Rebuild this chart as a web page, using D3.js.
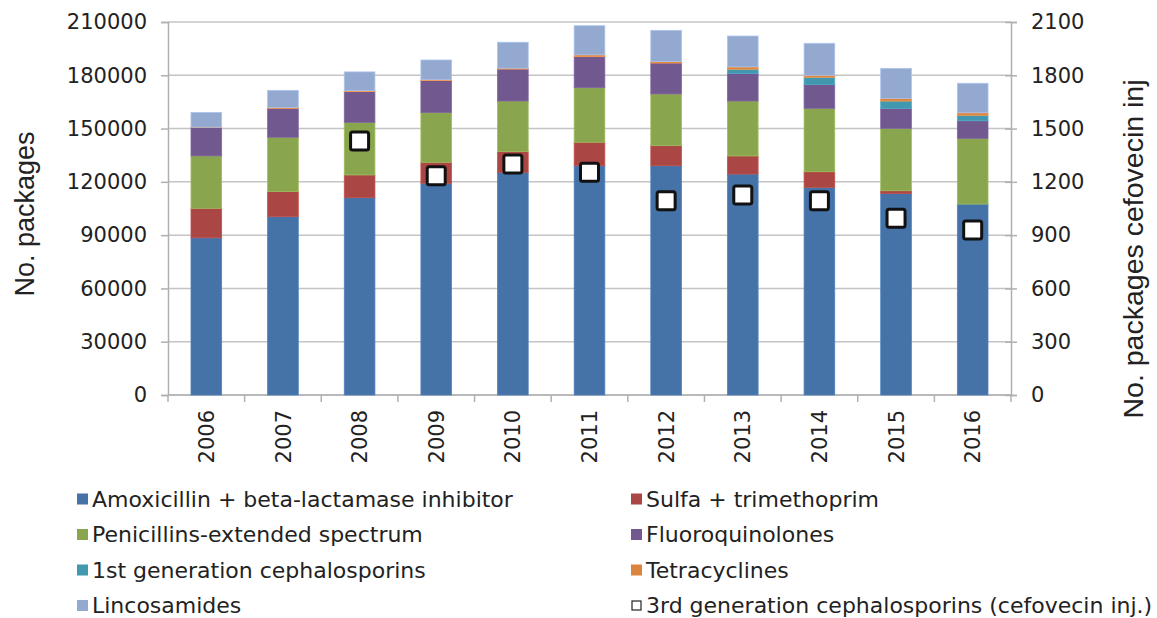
<!DOCTYPE html>
<html lang="en">
<head>
  <meta charset="utf-8">
  <title>Antibiotic packages</title>
  <script src="https://d3js.org/d3.v7.min.js"></script>
  <style>
    body { margin: 0; background: #fff; }
    .tick-label { font-family: "DejaVu Sans", Verdana, sans-serif; font-size: 21px; fill: #222; }
    .axis-title { font-family: "Liberation Sans", Arial, sans-serif; font-size: 27px; fill: #222; }
    .legend text { font-family: "DejaVu Sans", Verdana, sans-serif; font-size: 22px; fill: #222; }
  </style>
</head>
<body>
<script>
  // chart data
  var years = [2006, 2007, 2008, 2009, 2010, 2011, 2012, 2013, 2014, 2015, 2016];
  var amoxicillin = [88500, 100400, 111100, 119200, 125200, 129100, 129100, 124400, 116900, 113500, 107500];
  var sulfa = [16600, 14100, 12800, 11800, 11800, 13200, 11300, 10200, 8800, 1500, 0];
  var penicillins = [29500, 30600, 29600, 28000, 28500, 30700, 29100, 30900, 35700, 35100, 37000];
  var fluoroquinolones = [16000, 16300, 17300, 18000, 18000, 17500, 17400, 15600, 13500, 11300, 9900];
  var cephalosporins1 = [0, 0, 0, 0, 0, 0, 0, 2300, 4000, 4100, 3100];
  var tetracyclines = [200, 500, 500, 500, 500, 1000, 800, 1300, 1100, 1500, 1400];
  var lincosamides = [8300, 9600, 10600, 11100, 14600, 16400, 17600, 17400, 18000, 16900, 16600];
  var cefovecin = [null, null, 1430, 1235, 1300, 1254, 1094, 1126, 1094, 995, 929];

  var leftTicks = [0, 30000, 60000, 90000, 120000, 150000, 180000, 210000];
  var rightTicks = [0, 300, 600, 900, 1200, 1500, 1800, 2100];

  var seriesNames = ["Amoxicillin + beta-lactamase inhibitor", "Sulfa + trimethoprim",
    "Penicillins-extended spectrum", "Fluoroquinolones", "1st generation cephalosporins",
    "Tetracyclines", "Lincosamides"];
  var seriesValues = [amoxicillin, sulfa, penicillins, fluoroquinolones, cephalosporins1, tetracyclines, lincosamides];
  var seriesColors = ["#4572A7", "#AA4643", "#89A54E", "#71588F", "#4198AF", "#DB843D", "#93A9CF"];
  var markerName = "3rd generation cephalosporins (cefovecin inj.)";

  var width = 1157;
  var height = 618;
  // plot area edges ("top" is taken by window.top)
  var pLeft = 168, pRight = 1011, pTop = 22, pBottom = 395;

  var svg = d3.select("body").append("svg")
    .attr("width", width)
    .attr("height", height);

  var x = d3.scaleBand().domain(years).range([pLeft, pRight]).paddingInner(0.6).paddingOuter(0.3);
  var y = d3.scaleLinear().domain([0, 210000]).range([pBottom, pTop]);
  var y2 = d3.scaleLinear().domain([0, 2100]).range([pBottom, pTop]);

  // gridlines
  svg.append("g").selectAll("line")
    .data(leftTicks)
    .enter().append("line")
    .attr("x1", pLeft).attr("x2", pRight)
    .attr("y1", function(d) { return y(d); })
    .attr("y2", function(d) { return y(d); })
    .attr("stroke", "#c4c4c4")
    .attr("stroke-width", 1.5);

  // left axis
  var leftAxis = svg.append("g")
    .attr("transform", "translate(" + pLeft + ",0)")
    .call(d3.axisLeft(y).tickValues(leftTicks).tickSize(7).tickPadding(14).tickFormat(d3.format("d")));
  leftAxis.select(".domain").attr("stroke", "#b0b0b0").attr("stroke-width", 1.5);
  leftAxis.selectAll(".tick line").attr("stroke", "#b0b0b0").attr("stroke-width", 1.5);
  leftAxis.selectAll("text").attr("class", "tick-label");
  leftAxis.attr("font-size", null).attr("font-family", null);

  // right axis
  var rightAxis = svg.append("g")
    .attr("transform", "translate(" + pRight + ",0)")
    .call(d3.axisRight(y2).tickValues(rightTicks).tickSize(6).tickPadding(14).tickFormat(d3.format("d")));
  rightAxis.select(".domain").attr("stroke", "#b0b0b0").attr("stroke-width", 1.5);
  rightAxis.selectAll(".tick line").attr("x1", -6).attr("stroke", "#b0b0b0").attr("stroke-width", 1.5);
  rightAxis.selectAll("text").attr("class", "tick-label");
  rightAxis.attr("font-size", null).attr("font-family", null);

  // bottom axis: ticks between categories, labels rotated
  var step = x.step();
  var bottomAxis = svg.append("g");
  bottomAxis.append("line")
    .attr("x1", pLeft).attr("x2", pRight)
    .attr("y1", pBottom).attr("y2", pBottom)
    .attr("stroke", "#b0b0b0").attr("stroke-width", 1.5);
  bottomAxis.selectAll(".sep")
    .data(d3.range(years.length + 1))
    .enter().append("line")
    .attr("x1", function(i) { return pLeft + i * step; })
    .attr("x2", function(i) { return pLeft + i * step; })
    .attr("y1", pBottom).attr("y2", pBottom + 7)
    .attr("stroke", "#b0b0b0").attr("stroke-width", 1.5);
  bottomAxis.selectAll("text")
    .data(years)
    .enter().append("text")
    .attr("class", "tick-label")
    .attr("transform", function(d) {
      return "translate(" + (x(d) + x.bandwidth() / 2) + "," + (pBottom + 15) + ") rotate(-90)";
    })
    .attr("text-anchor", "end")
    .attr("dy", "0.36em")
    .text(function(d) { return d; });

  // stacked bars
  var keys = d3.range(seriesNames.length);
  var table = years.map(function(yr, i) {
    var row = { year: yr };
    keys.forEach(function(k) { row[k] = seriesValues[k][i]; });
    return row;
  });
  var stacked = d3.stack().keys(keys)(table);

  svg.append("g").selectAll("g")
    .data(stacked)
    .enter().append("g")
    .attr("fill", function(d) { return seriesColors[d.key]; })
    .attr("stroke", function(d) { return d3.color(seriesColors[d.key]).brighter(0.4); })
    .attr("stroke-width", 0.8)
    .selectAll("rect")
    .data(function(d) { return d.filter(function(p) { return p[1] - p[0] > 0; }); })
    .enter().append("rect")
    .attr("x", function(d) { return x(d.data.year); })
    .attr("width", x.bandwidth())
    .attr("y", function(d) { return y(d[1]); })
    .attr("height", function(d) { return y(d[0]) - y(d[1]); });

  // cefovecin markers on secondary axis
  var marks = years.map(function(yr, i) { return { year: yr, v: cefovecin[i] }; })
    .filter(function(d) { return d.v !== null; });
  svg.append("g").selectAll("rect")
    .data(marks)
    .enter().append("rect")
    .attr("x", function(d) { return x(d.year) + x.bandwidth() / 2 - 9; })
    .attr("y", function(d) { return y2(d.v) - 9; })
    .attr("width", 18).attr("height", 18)
    .attr("rx", 2)
    .attr("fill", "#fff")
    .attr("stroke", "#111")
    .attr("stroke-width", 3);

  // axis titles
  svg.append("text")
    .attr("class", "axis-title")
    .attr("transform", "translate(34,214) rotate(-90)")
    .attr("text-anchor", "middle")
    .text("No. packages");
  svg.append("text")
    .attr("class", "axis-title")
    .attr("transform", "translate(1143,249) rotate(-90)")
    .attr("text-anchor", "middle")
    .attr("font-size", "28.5px")
    .style("font-size", "28.5px")
    .text("No. packages cefovecin inj");

  // legend, two columns
  var legendItems = seriesNames.map(function(n, i) { return { name: n, color: seriesColors[i], marker: false }; });
  legendItems.push({ name: markerName, color: "#fff", marker: true });
  var colX = [77, 631];
  var legend = svg.append("g").attr("class", "legend");
  var item = legend.selectAll("g")
    .data(legendItems)
    .enter().append("g")
    .attr("transform", function(d, i) {
      return "translate(" + colX[i % 2] + "," + (499 + Math.floor(i / 2) * 35.5) + ")";
    });
  item.append("rect")
    .attr("x", function(d) { return d.marker ? 1 : 0; })
    .attr("y", function(d) { return d.marker ? -4.5 : -5.5; })
    .attr("width", function(d) { return d.marker ? 9 : 11; })
    .attr("height", function(d) { return d.marker ? 9 : 11; })
    .attr("fill", function(d) { return d.color; })
    .attr("stroke", function(d) { return d.marker ? "#222" : "none"; })
    .attr("stroke-width", 1.2);
  item.append("text")
    .attr("x", 15)
    .attr("dy", "0.36em")
    .text(function(d) { return d.name; });
</script>
</body>
</html>
